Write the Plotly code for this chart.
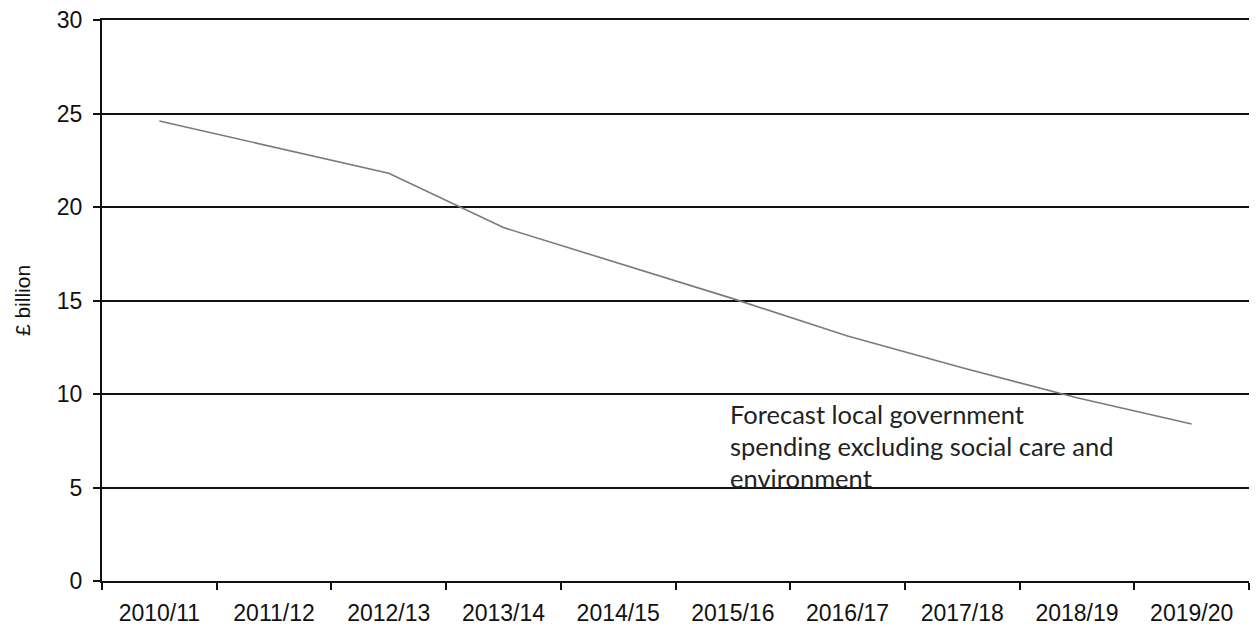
import plotly.graph_objects as go

years = ["2010/11", "2011/12", "2012/13", "2013/14", "2014/15",
         "2015/16", "2016/17", "2017/18", "2018/19", "2019/20"]
spending = [24.6, 23.2, 21.8, 18.9, 17.0, 15.1, 13.1, 11.4, 9.8, 8.4]
y_ticks = [0, 5, 10, 15, 20, 25, 30]
note_lines = ["Forecast local government",
              "spending excluding social care and",
              "environment"]

fig = go.Figure()
fig.add_trace(go.Scatter(
    x=years, y=spending, mode="lines",
    line=dict(color="#7a7a7a", width=1.6),
    showlegend=False, hoverinfo="skip",
))

# Multi-line label placed line by line for tight spacing
note_y = [8.92, 7.2, 5.5]
for txt, yv in zip(note_lines, note_y):
    fig.add_annotation(
        x=4.96, y=yv, xref="x", yref="y", text=txt, showarrow=False,
        xanchor="left", yanchor="middle", align="left",
        font=dict(family="Lato, Open Sans, sans-serif", size=25.5, color="#222"),
    )

fig.update_layout(
    width=1257, height=631,
    margin=dict(l=102, r=8, t=20, b=50),
    paper_bgcolor="white", plot_bgcolor="white",
    font=dict(family="Liberation Sans, Arial, sans-serif", color="#111"),
    xaxis=dict(
        type="category", range=[-0.5, 9.5], automargin=False,
        tickson="boundaries", ticks="outside", ticklen=7, tickwidth=2,
        tickcolor="#111", showline=True, linecolor="#111", linewidth=2,
        mirror=True, ticklabelstandoff=10,
        showgrid=False, tickfont=dict(size=23), zeroline=False,
    ),
    yaxis=dict(
        range=[0, 30], tickvals=y_ticks, ticks="outside", ticklen=7,
        automargin=False,
        tickwidth=2, tickcolor="#111", showline=True, linecolor="#111",
        linewidth=2, showgrid=True, gridcolor="#111", gridwidth=2,
        zeroline=False, tickfont=dict(size=23), ticklabelstandoff=6,
        title=dict(text="£ billion", font=dict(size=21), standoff=20),
    ),
)

fig.write_html("out.html")
